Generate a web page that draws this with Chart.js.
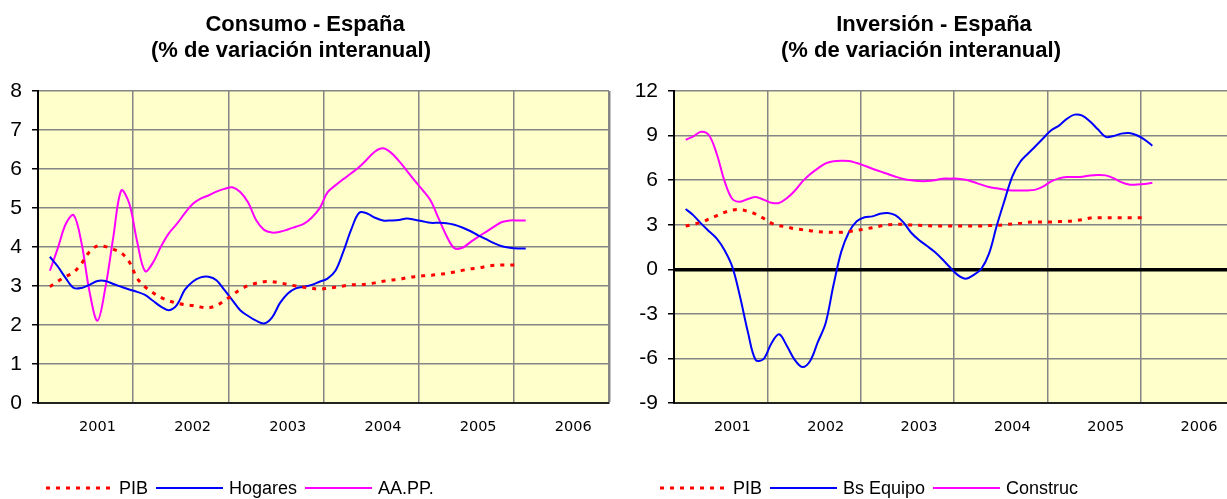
<!DOCTYPE html>
<html>
<head>
<meta charset="utf-8">
<script src="https://cdn.jsdelivr.net/npm/chart.js@4.4.0/dist/chart.umd.min.js"></script>
<style>
html,body{margin:0;padding:0;background:#fff;width:1227px;height:499px;overflow:hidden;position:relative;font-family:"Liberation Sans",Arial,sans-serif;}
.title{position:absolute;font-weight:bold;font-size:22px;line-height:26px;color:#000;white-space:nowrap;text-align:center;width:400px;z-index:2;}
.legend{position:absolute;top:477px;height:22px;display:flex;align-items:center;font-size:18px;white-space:nowrap;color:#000;z-index:2;}
.legend .item{display:flex;align-items:center;}
.legend svg{margin-right:6px;display:block;}
.legend span{margin-right:8px;}
.wrap{position:absolute;top:0;height:499px;overflow:hidden;}
#wrapL{left:0;width:615px;}
#wrapR{left:615px;width:612px;}
canvas{display:block;}
</style>
</head>
<body>
<div class="title" style="left:105px;top:11px;">Consumo - España</div>
<div class="title" style="left:91px;top:37px;">(% de variación interanual)</div>
<div class="title" style="left:734px;top:11px;">Inversión - España</div>
<div class="title" style="left:721px;top:37px;">(% de variación interanual)</div>

<div class="wrap" id="wrapL"><canvas id="cL" width="625" height="499"></canvas></div>
<div class="wrap" id="wrapR"><canvas id="cR" width="635" height="499"></canvas></div>

<div class="legend" id="legL" style="left:46px;"></div>
<div class="legend" id="legR" style="left:660px;"></div>

<script>
// ---------- DATA ----------
const years = ['2001', '2002', '2003', '2004', '2005', '2006'];
const consumoNames = ['PIB', 'Hogares', 'AA.PP.'];
const inversionNames = ['PIB', 'Bs Equipo', 'Construc'];

// monthly observations (first one falls 1.5 months after the axis start)
const pibConsumo = [2.98,3.12,3.24,3.35,3.58,3.88,4.03,4.01,3.94,3.85,3.62,3.20,2.98,2.83,2.71,2.62,2.56,2.52,2.50,2.46,2.44,2.50,2.62,2.77,2.91,3.01,3.07,3.11,3.11,3.08,3.04,3.00,2.97,2.94,2.92,2.94,2.97,3.00,3.03,3.03,3.05,3.08,3.12,3.15,3.17,3.21,3.24,3.26,3.27,3.30,3.32,3.36,3.40,3.44,3.46,3.50,3.53,3.54,3.54,3.54,null];
const hogares = [3.75,3.50,3.20,2.95,2.95,3.03,3.13,3.13,3.05,2.98,2.91,2.85,2.77,2.62,2.47,2.38,2.51,2.90,3.11,3.22,3.24,3.15,2.90,2.64,2.38,2.23,2.11,2.04,2.19,2.56,2.81,2.94,2.98,3.03,3.11,3.19,3.39,3.88,4.45,4.88,4.86,4.75,4.68,4.68,4.69,4.73,4.70,4.66,4.62,4.62,4.61,4.57,4.50,4.41,4.30,4.20,4.10,4.02,3.98,3.96,3.96];
const aapp = [3.39,3.97,4.59,4.82,4.09,2.85,2.11,2.96,4.26,5.45,5.12,4.14,3.38,3.60,4.01,4.35,4.59,4.86,5.10,5.24,5.32,5.42,5.49,5.53,5.41,5.14,4.69,4.44,4.37,4.39,4.45,4.52,4.59,4.75,4.99,5.40,5.58,5.74,5.89,6.05,6.25,6.45,6.53,6.42,6.21,5.96,5.70,5.46,5.19,4.74,4.29,3.97,3.98,4.12,4.26,4.39,4.52,4.64,4.68,4.68,4.68];

const pibInversion = [2.91,3.03,3.16,3.38,3.61,3.83,3.99,4.01,3.90,3.72,3.43,3.11,2.94,2.85,2.73,2.67,2.60,2.53,2.51,2.49,2.49,2.55,2.62,2.71,2.80,2.91,3.00,3.03,3.03,2.98,2.96,2.94,2.91,2.91,2.91,2.91,2.91,2.91,2.91,2.94,2.96,3.00,3.05,3.09,3.16,3.18,3.18,3.18,3.21,3.23,3.27,3.34,3.45,3.47,3.47,3.47,3.47,3.47,3.47,3.47,null];
const bsEquipo = [4.06,3.63,3.07,2.56,2.06,1.28,0.16,-1.86,-4.22,-6.10,-6.05,-5.01,-4.38,-5.14,-6.08,-6.58,-6.17,-4.89,-3.62,-1.08,1.17,2.51,3.23,3.50,3.56,3.74,3.79,3.63,3.16,2.46,1.97,1.58,1.18,0.68,0.12,-0.39,-0.63,-0.39,0.02,1.05,2.94,4.64,6.26,7.22,7.78,8.30,8.84,9.36,9.67,10.12,10.41,10.34,9.94,9.42,8.91,8.97,9.13,9.17,9.02,8.73,8.32];
const construc = [8.72,8.95,9.25,9.02,7.76,5.93,4.73,4.55,4.73,4.87,4.69,4.48,4.46,4.78,5.27,5.90,6.39,6.79,7.13,7.27,7.31,7.29,7.15,6.97,6.77,6.59,6.41,6.23,6.08,5.99,5.94,5.94,5.99,6.10,6.10,6.10,6.03,5.87,5.70,5.54,5.45,5.36,5.31,5.31,5.31,5.36,5.58,5.92,6.12,6.21,6.21,6.23,6.32,6.35,6.32,6.14,5.87,5.70,5.70,5.74,5.83];

const consumoAxis = { min: 0, max: 8, step: 1 };
const inversionAxis = { min: -9, max: 12, step: 3 };

// ---------- CHART HELPERS ----------
const MONTHS = 72;          // 6 years on the axis
const FIRST_MONTH = 1.5;    // position of the first observation (months)
const GRID = '#858585';
const xTickValues = [];
for (let k = 0; k <= 6; k++) xTickValues.push(k * 12);
for (let k = 0; k < years.length; k++) xTickValues.push(k * 12 + 7.5);
xTickValues.sort((a, b) => a - b);

const toPoints = arr => arr.map((v, i) => ({ x: i + FIRST_MONTH, y: v }));

const plotBg = {
  id: 'plotBg',
  beforeDraw(chart) {
    const { ctx, chartArea: a } = chart;
    ctx.save();
    ctx.fillStyle = '#FFFFCC';
    ctx.fillRect(a.left, a.top, a.width, a.height);
    ctx.restore();
  }
};

function makeDatasets(names, series) {
  const styles = [
    { borderColor: '#FF0000', borderWidth: 3, borderDash: [4, 6] },
    { borderColor: '#0000FF', borderWidth: 2, borderDash: [] },
    { borderColor: '#FF00FF', borderWidth: 2, borderDash: [] }
  ];
  return names.map((n, i) => Object.assign({
    label: n,
    data: toPoints(series[i]),
    pointRadius: 0,
    fill: false,
    tension: 0.35,
    borderCapStyle: 'butt'
  }, styles[i]));
}

function buildChart(canvasId, datasets, axis, yWidth, zeroLine) {
  return new Chart(document.getElementById(canvasId), {
    type: 'line',
    data: { datasets },
    plugins: [plotBg],
    options: {
      responsive: false,
      animation: false,
      events: [],
      layout: { padding: { left: 0, right: 0, top: 91, bottom: 56 } },
      plugins: { legend: { display: false }, title: { display: false }, tooltip: { enabled: false } },
      scales: {
        x: {
          type: 'linear', min: 0, max: MONTHS,
          afterBuildTicks(s) { s.ticks = xTickValues.map(v => ({ value: v })); },
          afterFit(s) { s.height = 40; },
          grid: {
            color: c => (c.tick && c.tick.value % 12 === 0) ? GRID : 'rgba(0,0,0,0)',
            lineWidth: c => (c.tick && c.tick.value === MONTHS) ? 2.5 : 1.5,
            drawTicks: false
          },
          border: { display: true, color: '#222', width: 2 },
          ticks: {
            autoSkip: false, maxRotation: 0, minRotation: 0, padding: 16, color: '#000',
            font: { family: 'DejaVu Sans', size: 14.5 },
            callback: v => (v % 12 === 7.5) ? years[Math.round((v - 7.5) / 12)] : ''
          }
        },
        y: {
          min: axis.min, max: axis.max,
          afterFit(s) { s.width = yWidth; },
          ticks: { stepSize: axis.step, padding: 10, color: '#000', font: { family: 'Liberation Sans', size: 21 } },
          grid: {
            color: c => (zeroLine && c.tick && c.tick.value === 0) ? '#000' : GRID,
            lineWidth: c => (zeroLine && c.tick && c.tick.value === 0) ? 3.5 : 1.5,
            tickColor: '#000', tickLength: 6, tickWidth: 1.5
          },
          border: { display: true, color: '#000', width: 2 }
        }
      }
    }
  });
}

function buildLegend(el, datasets) {
  datasets.forEach(ds => {
    const item = document.createElement('div');
    item.className = 'item';
    const dash = (ds.borderDash && ds.borderDash.length) ? ` stroke-dasharray="${ds.borderDash.join(' ')}"` : '';
    item.innerHTML = `<svg width="67" height="8"><line x1="0" y1="4" x2="67" y2="4" stroke="${ds.borderColor}" stroke-width="${ds.borderWidth}"${dash}/></svg><span>${ds.label}</span>`;
    el.appendChild(item);
  });
}

const dsL = makeDatasets(consumoNames, [pibConsumo, hogares, aapp]);
const dsR = makeDatasets(inversionNames, [pibInversion, bsEquipo, construc]);
buildChart('cL', dsL, consumoAxis, 38, false);
buildChart('cR', dsR, inversionAxis, 59, true);
buildLegend(document.getElementById('legL'), dsL);
buildLegend(document.getElementById('legR'), dsR);
</script>
</body>
</html>
